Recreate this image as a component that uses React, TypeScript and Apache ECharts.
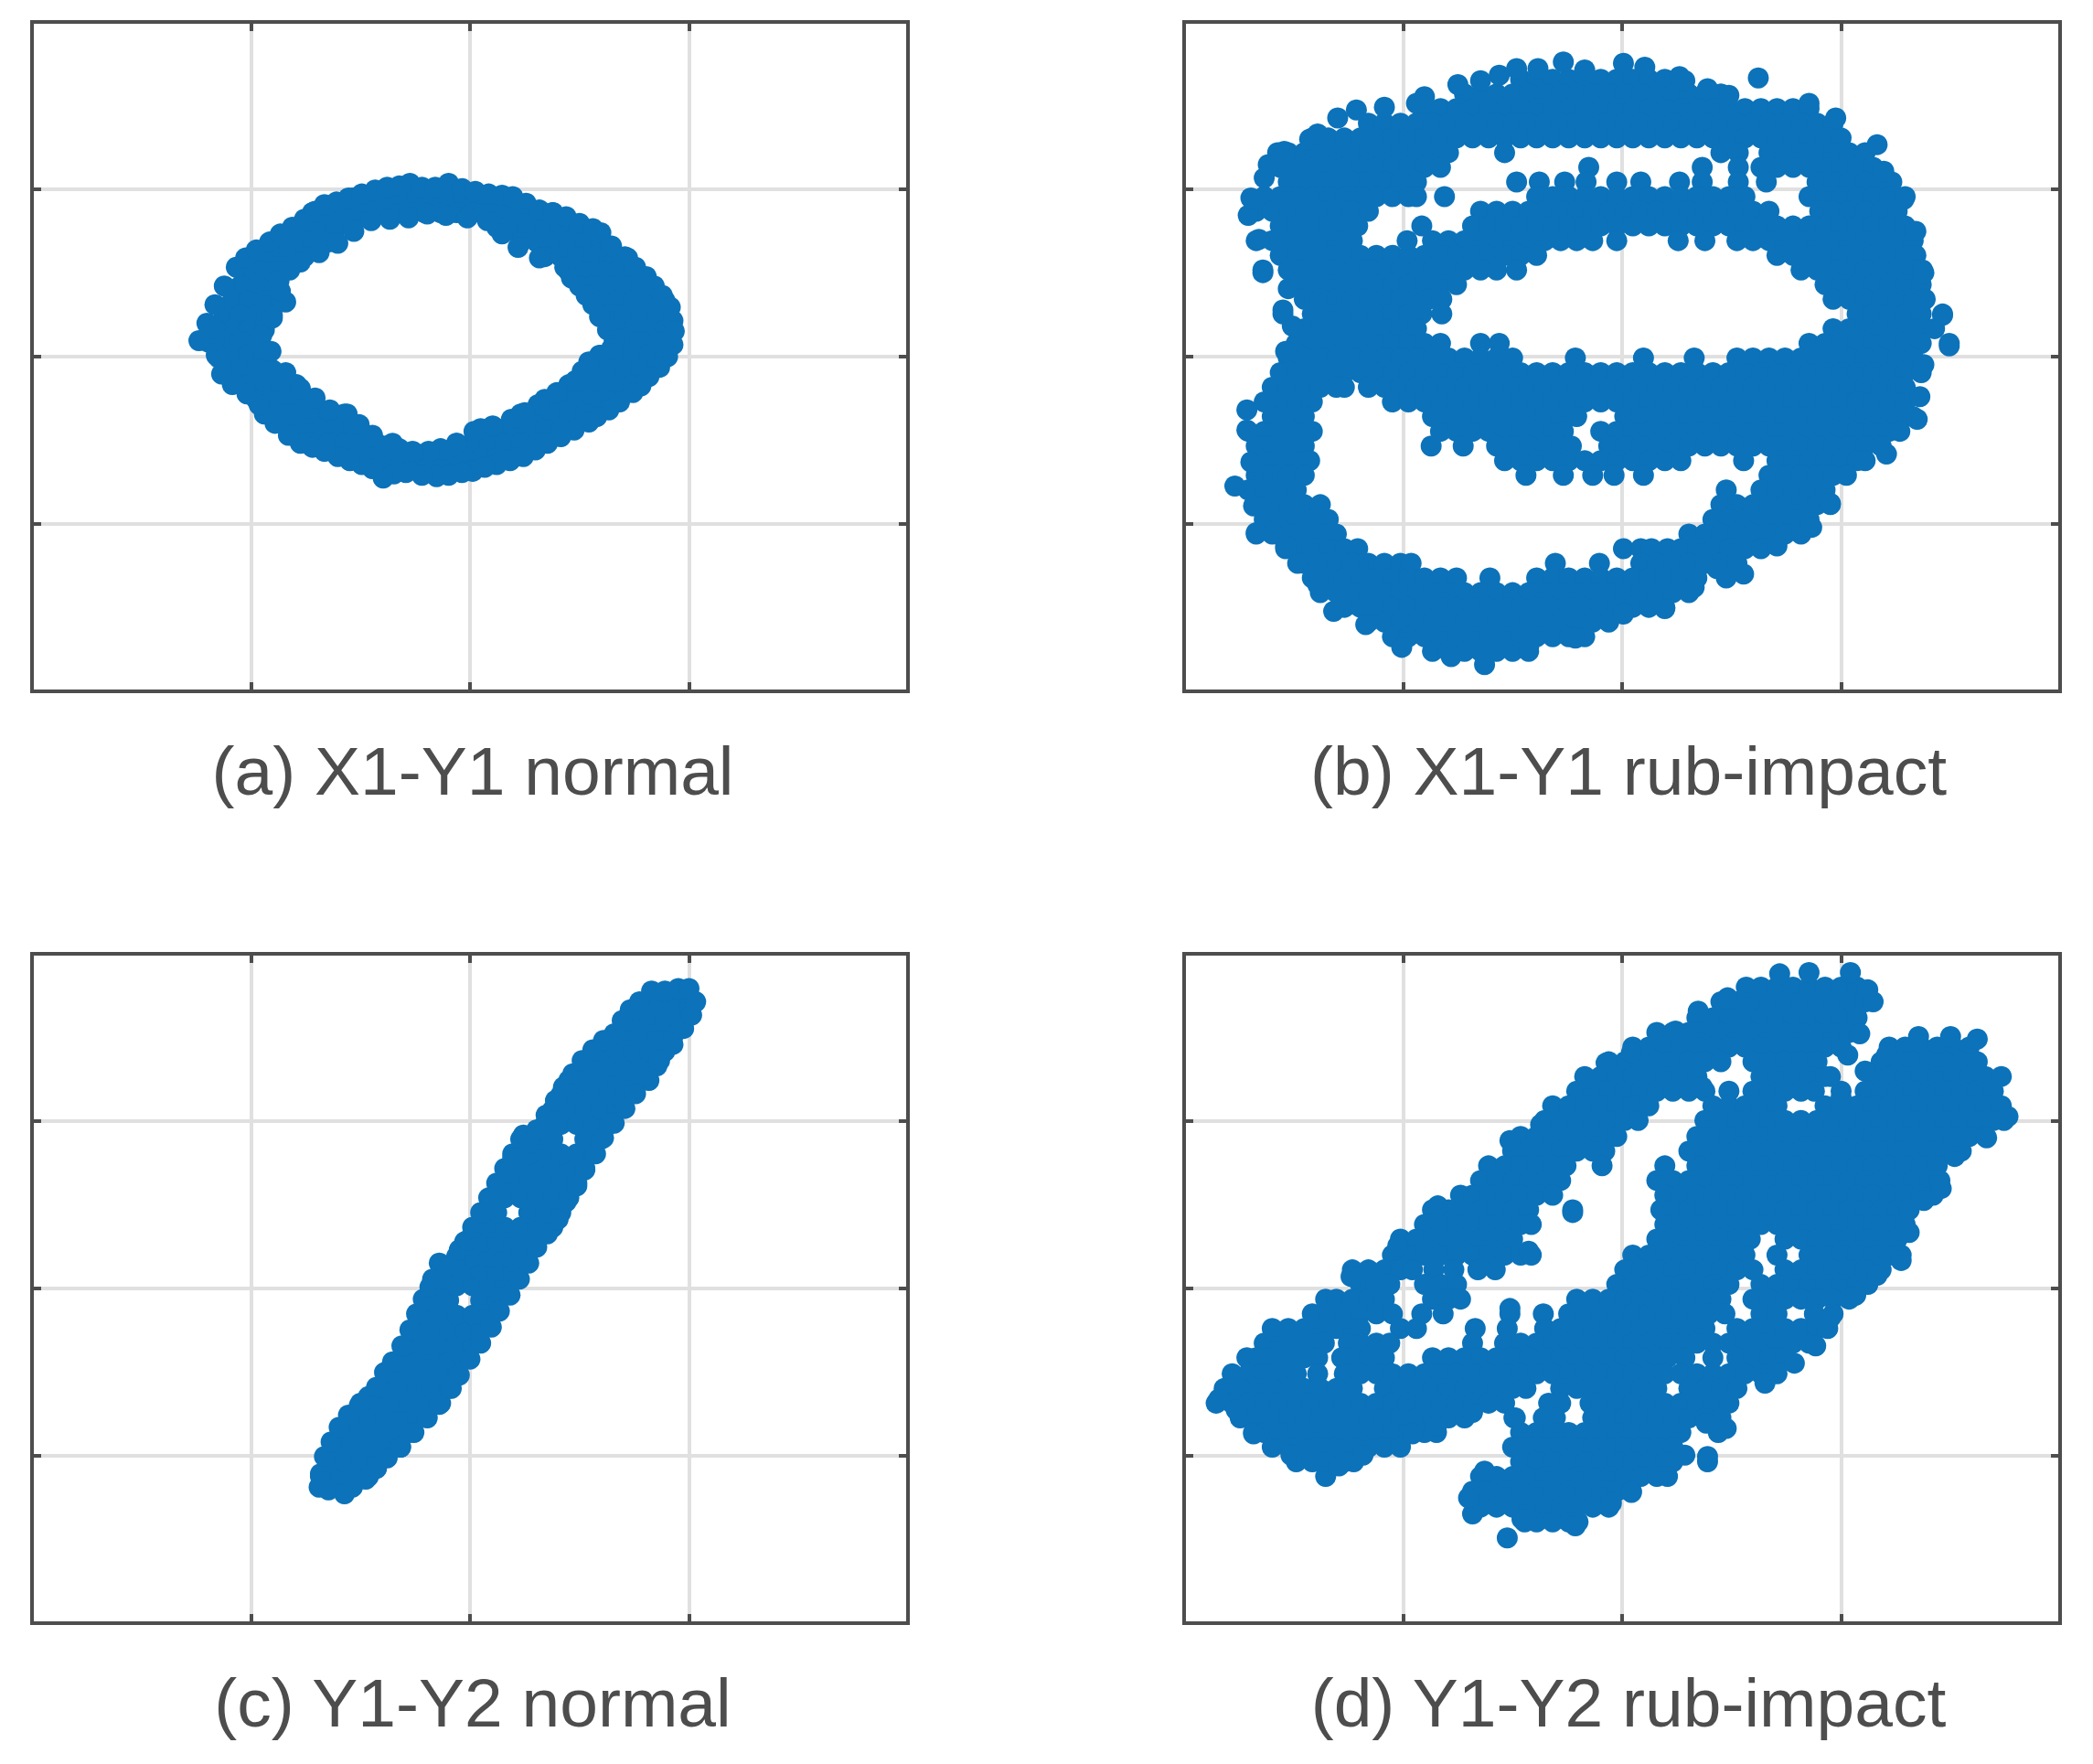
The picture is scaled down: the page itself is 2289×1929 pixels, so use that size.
import React, { useEffect, useRef } from "react";
import * as echarts from "echarts";

const captions = ["(a) X1-Y1 normal", "(b) X1-Y1 rub-impact", "(c) Y1-Y2 normal", "(d) Y1-Y2 rub-impact"];
const xRange = [0, 656];
const yRange = [0, 502];

const edgeA: number[][] = [
[125,263],[131,276],[137,290],[144,304],[153,318],[160,325],[168,331],[178,337],[186,343],[195,348],[204,354],[212,360],[219,365],[228,367],[237,370],[247,373],[257,376],[266,378],[275,379],[283,381],[292,378],[302,378],[312,381],[322,377],[332,375],[342,373],[352,372],[360,371],[370,366],[380,361],[390,359],[400,356],[410,351],[420,347],[426,344],[434,334],[446,325],[452,318],[460,311],[466,304],[472,297],[478,288],[480,278],[481,270],[480,260],[476,251],
[470,243],[462,236],[456,229],[450,224],[440,217],[432,211],[423,206],[417,202],[406,196],[396,191],[386,186],[377,181],[368,176],[358,173],[348,170],[339,168],[330,165],[322,164],[312,162],[303,161],[292,162],[280,164],[271,163],[263,160],[255,167],[247,170],[238,173],[229,176],[219,180],[210,183],[201,186],[192,192],[182,201],[176,208],[170,215],[161,223],[152,231],[142,238],[140,250],[136,262],[137,272],
[172,267],[180,280],[190,292],[186,300],[185,308],[193,316],[201,322],[215,329],[229,336],[241,345],[254,353],[268,354],[282,355],[296,358],[310,357],[326,355],[341,353],[352,343],[364,333],[380,325],[399,318],[404,310],[410,304],[415,297],[420,290],[425,281],[431,271],[436,263],[434,257],[425,252],[417,247],[412,240],[407,233],[393,224],[379,215],[369,209],[359,204],[345,199],[331,195],[318,186],[306,182],[297,180],[285,180],[275,182],[265,184],[255,192],[245,200],[236,208],[223,211],[212,220],[201,227],[190,239],[179,255],
];

const rowsA: [number, number[]][] = [
[370,[240,252,264,276,288,300,312,324,336,348]],
[359,[210,222,234,246,258,270,282,294,306,318,330,342,354,366,378,390]],
[348,[204,216,228,240,348,360,372,384,396,408]],
[337,[186,198,210,222,366,378,390,402,414,426]],
[326,[168,180,192,204,384,396,408,420,432,444]],
[315,[162,174,186,402,414,426,438,450]],
[304,[156,168,180,420,432,444,456]],
[293,[150,162,174,186,426,438,450,462,474]],
[282,[144,156,168,180,432,444,456,468]],
[271,[138,150,162,174,438,450,462,474]],
[262,[132,144,156,168,444,456,468]],
[252,[138,150,162,174,426,438,450,462,474]],
[241,[144,156,168,180,420,432,444,456]],
[230,[150,162,174,186,198,402,414,426,438,450]],
[219,[168,180,192,204,384,396,408,420,432]],
[208,[174,186,198,210,222,234,366,378,390,402,414]],
[197,[192,204,216,228,240,336,348,360,372,384,396]],
[186,[210,222,234,246,258,270,318,330,342,354,366,378]],
[175,[240,252,264,276,288,300,312,324,336,348,360]],
[166,[270,282,294,306,318,330]],
];

const edgeC: number[][] = [
[215,102],[216,112],[219,125],[224,136],[230,147],[237,156],[245,163],[252,170],[258,177],[264,188],[270,196],[277,208],[283,220],[288,232],[293,243],[298,252],[305,270],[300,258],[307,258],[313,268],[320,280],[326,287],[331,297],[337,308],[343,318],[349,328],[355,338],[360,349],[368,366],[372,360],[378,370],[385,381],[392,392],[398,402],[405,412],[412,422],[420,430],[428,437],[436,442],[442,452],[448,460],[455,466],[464,474],[474,474],[484,476],[492,476],
[222,100],[234,97],[240,102],[250,108],[258,116],[266,124],[276,132],[286,143],[296,154],[305,164],[314,176],[320,186],[328,198],[336,210],[344,222],[350,234],[358,246],[365,258],[372,270],[378,282],[386,292],[394,303],[400,316],[408,328],[414,340],[422,352],[428,364],[436,375],[444,386],[452,397],[460,410],[470,422],[480,434],[488,446],[494,456],[497,466],
[396,352],
];

const rowsC: [number, number[]][] = [
[110,[216,228,240,252]],
[121,[222,234,246,258]],
[132,[228,240,252,264,276]],
[143,[234,246,258,270,282]],
[154,[240,252,264,276,288]],
[165,[246,258,270,282,294,306]],
[176,[264,276,288,300,312]],
[187,[270,282,294,306,318]],
[198,[276,288,300,312,324]],
[209,[282,294,306,318,330]],
[220,[288,300,312,324,336]],
[231,[294,306,318,330,342]],
[242,[300,312,336,348]],
[253,[306,318,330,342,354]],
[264,[312,324,336,348,360]],
[275,[318,330,342,354,366]],
[286,[324,336,348,360,372]],
[297,[330,342,354,366,378,390]],
[308,[336,348,372,384,396]],
[319,[342,354,366,378,390,402]],
[330,[348,360,372,384,396,408]],
[341,[354,366,378,390,402,414]],
[352,[360,372,384,408,420]],
[363,[366,378,390,414,426]],
[374,[384,396,408,420,432]],
[385,[390,402,414,426,438]],
[396,[396,408,420,432,444]],
[407,[402,414,426,438,450,462]],
[418,[420,432,444,456,468]],
[429,[426,438,450,462,474]],
[440,[444,456,468,480]],
[451,[450,462,474,486]],
[462,[456,468,480,492]],
[473,[474,486]],
];

const rowsB: [number, number[]][] = [
[459,[252,264,276,288,300,312,324,336,348,360]],
[448,[210,222,234,246,258,270,282,294,306,318,330,342,354,366,378,390,402]],
[437,[180,192,204,216,228,240,252,264,276,288,300,312,324,336,348,360,372,384,396,408,420,432,444,456,468]],
[426,[138,150,162,174,186,198,210,222,234,246,258,270,282,294,306,318,330,342,354,366,378,390,402,414,426,438,450,462,474,486]],
[415,[96,108,120,132,144,156,168,180,192,204,216,228,240,252,264,276,288,300,312,324,336,348,360,372,384,396,408,420,432,444,456,468,480,492]],
[404,[70,78,90,102,114,126,138,150,162,174,186,198,240,402,415,438,450,462,474,486,498,510]],
[393,[72,84,96,108,120,132,144,156,168,180,192,303,388,415,432,444,456,468,480,492,504,516]],
[382,[78,90,102,114,126,138,150,162,174,249,266,285,301,324,342,371,388,415,436,474,486,498,510,522,530]],
[371,[60,72,84,96,108,120,132,144,156,168,174,195,264,276,288,300,312,324,336,348,360,372,384,396,408,420,468,480,492,504,516,528,540]],
[360,[54,66,78,90,102,114,126,138,222,234,246,258,270,282,294,306,318,330,342,354,366,378,390,402,414,426,438,476,486,498,510,522,534]],
[349,[72,84,96,108,120,130,178,216,228,240,252,264,276,288,300,312,324,336,348,360,372,384,396,408,420,432,444,456,468,480,492,504,516,528,540]],
[338,[54,66,78,90,102,114,126,167,186,198,210,222,234,246,258,270,282,294,306,324,370,390,414,426,438,450,462,474,486,498,510,522,534,546]],
[327,[72,84,96,108,120,132,144,156,168,180,192,204,216,228,240,252,264,444,456,468,480,492,504,516,528,540,548]],
[316,[59,78,90,102,114,126,138,150,162,174,186,198,210,222,234,249,462,474,486,498,510,522,534,546,553]],
[305,[84,96,108,120,132,144,156,168,180,192,204,480,492,504,516,528,540,552]],
[294,[90,102,114,126,138,150,162,174,183,193,486,498,510,522,534,546,555]],
[283,[74,96,108,120,132,144,156,168,178,193,504,516,528,540,552,568]],
[272,[90,102,114,126,138,150,162,174,486,498,510,522,534,546,555,562]],
[261,[84,96,108,120,132,144,156,168,180,192,222,236,468,480,492,504,516,528,540,552,573]],
[250,[78,90,102,114,126,138,150,162,174,186,198,210,222,234,246,293,344,382,414,426,438,450,462,474,486,498,510,522,534,546]],
[239,[72,84,96,108,120,132,144,156,168,180,192,204,216,228,240,252,264,276,288,300,312,324,336,348,360,372,384,396,408,420,432,444,456,468,480,492,504,516,528,540,552]],
[228,[66,78,90,102,114,120,138,150,162,174,186,198,210,222,234,246,258,270,282,294,306,318,330,342,354,366,378,390,402,414,426,438,450,462,474,486,498,510,522,534,540]],
[217,[60,72,84,96,156,168,180,192,204,216,228,240,252,264,276,288,300,312,324,336,348,360,372,384,396,408,420,432,444,456,468,480,492,504,516,528,540]],
[206,[66,78,90,186,198,210,222,234,246,258,270,282,294,330,342,354,366,378,390,402,414,426,438,450,462,474,486,498,510,522,534,546]],
[195,[48,60,72,84,96,192,204,216,228,240,252,264,276,284,312,324,336,348,360,372,384,396,408,420,432,444,456,468,480,492,504,516,528,536]],
[184,[54,66,78,90,185,209,234,246,258,270,282,290,318,330,342,354,366,378,390,402,414,426,438,450,462,474,486,498,510,522]],
[173,[60,72,84,94,240,252,264,276,288,300,312,324,336,348,360,372,419,444,456,468,480,492,504,510]],
[162,[54,66,78,90,256,284,306,322,344,438,450,462,474,486,496]],
[151,[48,60,72,84,406,432,444,456,468,480]],
[140,[54,66,78,90,102,402,414,426,438,450,462,474,484]],
[129,[60,72,84,96,108,396,408,420,432,444,456,468]],
[118,[54,66,78,90,102,114,378,390,402,414,426,438,450,462]],
[107,[76,84,96,108,120,130,329,342,350,362,372,384,396,408,420,432]],
[96,[90,102,114,126,138,150,162,170,278,311,342,354,366,378,390,402,414]],
[85,[96,108,120,132,144,156,168,180,192,204,229,264,276,288,300,312,324,336,348,360,372,384,406]],
[74,[102,114,126,138,150,162,174,186,198,210,222,234,246,258,270,282,294,306,318,330,342,354,366,378]],
[63,[120,132,144,156,168,180,192,204,216,228,240,252,264,276,288,300,312,324,336,348,360]],
[52,[138,150,162,174,186,198,210,222,234,246,258,270,282,294,306,318]],
[41,[156,168,180,192,204,216,228,240,252,264,276,288,300]],
[30,[186,198,210,222,234,246,258]],
];

const edgeB: number[][] = [
[48,357],[63,395],[94,414],[129,436],[174,441],[205,455],[249,467],[284,472],[329,471],[371,461],[408,447],[430,460],[468,441],[488,430],[519,410],[524,390],[539,369],[548,345],[554,314],[568,282],[573,259],[554,245],[551,221],[549,204],[526,178],[484,141],[470,123],[444,109],[419,88],[399,92],[382,78],[360,62],[329,58],[293,40],[258,33],[225,20],[200,26],[163,33],[136,50],[112,60],[100,80],[85,96],[76,109],[54,119],[52,139],[38,154],[50,172],[47,196],[47,211],[76,255],[81,274],[74,286],[78,302],[59,314],[56,339],
[222,458],[236,462],[265,467],[300,466],[345,468],[375,458],[392,452],[180,446],[150,438],[115,430],[100,418],[75,405],[60,385],[50,370],
];

const rowsD: [number, number[]][] = [
[477,[432,444,456,468,480,492,504]],
[466,[402,414,426,438,450,462,474,486,498,510]],
[454,[384,396,408,420,432,444,456,468,480,492,504]],
[443,[354,366,378,390,402,414,426,438,450,462,474,486,498]],
[432,[336,348,360,372,384,396,408,420,432,444,456,468,480,492,528,540,552,564,576,588]],
[421,[318,330,342,354,366,378,390,402,426,438,450,462,474,522,534,546,558,570,582,594]],
[410,[300,312,324,336,348,360,372,384,432,444,456,468,480,516,528,540,552,564,576,588,600]],
[399,[294,306,318,330,342,354,366,378,390,408,426,438,450,462,472,492,510,522,534,546,558,570,582,594,606]],
[388,[276,288,300,312,324,336,348,396,408,420,432,444,480,492,504,516,528,540,552,564,576,588,600,612]],
[377,[270,282,294,306,318,330,340,390,402,414,426,438,450,462,474,486,498,510,522,534,546,558,570,582,594,606,614]],
[365,[252,264,276,288,300,312,324,384,396,408,420,432,444,456,468,480,492,504,516,528,540,552,564,576,588,600]],
[354,[246,258,270,282,294,306,315,378,390,402,414,426,438,450,462,474,486,498,510,522,534,546,558,570,582]],
[343,[228,240,252,264,276,286,313,360,384,396,408,420,432,444,456,468,480,492,504,516,528,540,552,564]],
[332,[222,234,246,258,270,282,354,366,378,390,402,414,426,438,450,462,474,486,498,510,522,534,546,558,566]],
[321,[207,216,228,240,252,264,276,360,372,384,396,408,420,432,444,456,468,480,492,504,516,528,540,552,561]],
[310,[186,198,210,222,234,246,258,291,357,366,378,390,402,414,426,438,450,462,474,486,498,510,522,534,543]],
[299,[180,192,204,216,228,240,252,260,360,372,384,396,408,420,432,444,456,468,480,492,504,516,528,540]],
[288,[162,174,186,198,210,222,234,246,354,366,378,390,402,414,424,450,462,474,486,498,510,522,534]],
[276,[156,168,180,192,204,216,228,240,252,260,336,348,360,372,384,396,408,420,444,468,480,492,504,516,528,537]],
[265,[126,138,150,162,171,187,202,220,233,330,342,354,366,378,390,402,414,426,450,462,474,486,498,510,522]],
[254,[132,144,154,180,192,204,324,336,348,360,372,384,396,408,432,444,456,468,480,492,504,512]],
[243,[106,114,126,138,150,186,198,207,294,306,318,330,342,354,366,378,390,402,426,438,450,462,474,486,498]],
[232,[96,108,120,132,144,156,178,194,244,269,288,300,312,324,336,348,360,372,384,393,405,432,444,472,486]],
[221,[66,78,90,102,114,126,132,162,174,218,242,270,282,294,306,318,330,342,354,366,378,390,414,426,438,450,462,474,482]],
[210,[60,72,84,96,105,123,132,144,154,216,240,252,264,276,288,300,312,324,336,348,360,372,384,396,408,420,432,444,456,468]],
[199,[47,54,66,78,90,100,118,126,138,150,186,198,210,222,234,246,258,270,282,294,306,318,330,342,354,362,375,396,414,426,438,450]],
[187,[36,48,60,72,84,100,120,132,144,156,168,180,192,204,216,228,240,252,264,276,288,300,312,324,336,348,360,372,384,396,408,420,432,444]],
[176,[30,42,54,66,78,90,102,114,126,150,162,174,186,198,210,222,234,246,256,282,294,306,318,330,342,354,378,390,402,414]],
[165,[24,36,48,60,72,84,96,108,120,132,144,156,168,180,192,204,216,228,240,273,282,304,312,324,336,348,360,372,384,396,408]],
[154,[42,54,66,78,90,102,114,126,138,150,162,174,186,198,210,247,269,278,306,318,330,342,354,366,378,390,402]],
[143,[52,60,72,84,96,108,120,132,144,156,168,180,189,252,264,276,288,300,312,324,336,348,360,372,400]],
[132,[66,78,90,102,114,126,138,150,162,246,258,270,282,294,306,318,330,342,354,366]],
[121,[84,96,108,120,127,252,264,276,288,300,312,324,336,348,360,366,392]],
[110,[106,222,234,246,258,270,282,294,306,318,330,342,354]],
[99,[216,228,240,252,264,276,288,300,312,324,335]],
[87,[222,234,246,258,270,282,294,306,318]],
[76,[255,264,276,288,295]],
];

const edgeD: number[][] = [
[26,168],[67,219],[125,260],[160,283],[190,313],[244,362],[267,374],[302,408],[316,420],[335,428],[368,444],[385,459],[407,469],[421,477],[446,487],[468,488],[499,488],[512,475],[516,466],[506,442],[497,426],[484,410],[492,394],[510,414],[526,426],[550,440],[574,440],[594,438],[612,410],[617,380],[601,364],[577,350],[567,326],[554,317],[543,293],[537,272],[519,261],[503,246],[484,229],[473,208],[457,195],[435,180],[406,146],[391,150],[392,125],[375,126],[362,110],[335,98],[320,90],[293,73],[242,64],[253,78],[216,82],[213,94],[225,114],[248,154],[216,158],[189,148],[171,142],[134,126],[116,118],[80,126],[52,142],[39,160],[291,308],[258,279],[388,402],[244,236],
];

const fromRows = (rows: [number, number[]][]) => rows.flatMap(([y, xs]) => xs.map((x) => [x, y]));
const panelData = [
  fromRows(rowsA).concat(edgeA),
  fromRows(rowsB).concat(edgeB),
  fromRows(rowsC).concat(edgeC),
  fromRows(rowsD).concat(edgeD),
];

const frames = [
  { left: 35, top: 24, captionX: 517 },
  { left: 1295, top: 24, captionX: 1781 },
  { left: 35, top: 1043, captionX: 517 },
  { left: 1295, top: 1043, captionX: 1781 },
];
const frameW = 958;
const frameH = 732;
const dark = "#4d4d4d";

export default function App() {
  const ref = useRef<HTMLDivElement>(null);
  useEffect(() => {
    document.body.style.margin = "0";
    const chart = echarts.init(ref.current!, undefined, { renderer: "svg" });
    const grid = frames.map((f) => ({
      left: f.left, top: f.top, width: frameW, height: frameH,
      show: true, borderColor: dark, borderWidth: 4, backgroundColor: "#fff", containLabel: false,
    }));
    const tick = { show: true, inside: true, length: 10, lineStyle: { color: dark, width: 4 } };
    const split = { show: true, showMinLine: false, showMaxLine: false, lineStyle: { color: "#e0e0e0", width: 4 } };
    const line = { show: false, onZero: false };
    const xAxis: any[] = [];
    const yAxis: any[] = [];
    frames.forEach((_, i) => {
      (["bottom", "top"] as const).forEach((position, k) => {
        xAxis.push({
          type: "value", gridIndex: i, position, min: xRange[0], max: xRange[1], interval: 164,
          axisLine: line, axisLabel: { show: false }, axisTick: tick,
          splitLine: k === 0 ? split : { show: false },
        });
      });
      (["left", "right"] as const).forEach((position, k) => {
        yAxis.push({
          type: "value", gridIndex: i, position, min: yRange[0], max: yRange[1], interval: 125.5,
          axisLine: line, axisLabel: { show: false }, axisTick: tick,
          splitLine: k === 0 ? split : { show: false },
        });
      });
    });
    chart.setOption({
      animation: false,
      backgroundColor: "#fff",
      grid, xAxis, yAxis,
      series: panelData.map((data, i) => ({
        type: "scatter", xAxisIndex: i * 2, yAxisIndex: i * 2, data,
        symbol: "circle", symbolSize: 23, silent: true,
        itemStyle: { color: "#0c72b9", opacity: 1 },
      })),
      graphic: captions.map((text, i) => ({
        type: "text", silent: true,
        x: frames[i].captionX, y: frames[i].top + frameH + 87,
        style: { text, fontFamily: "Liberation Sans", fontSize: 75, fill: dark, textAlign: "center", textVerticalAlign: "middle" },
      })),
    });
    return () => chart.dispose();
  }, []);
  return <div ref={ref} style={{ width: 2289, height: 1929 }} />;
}
